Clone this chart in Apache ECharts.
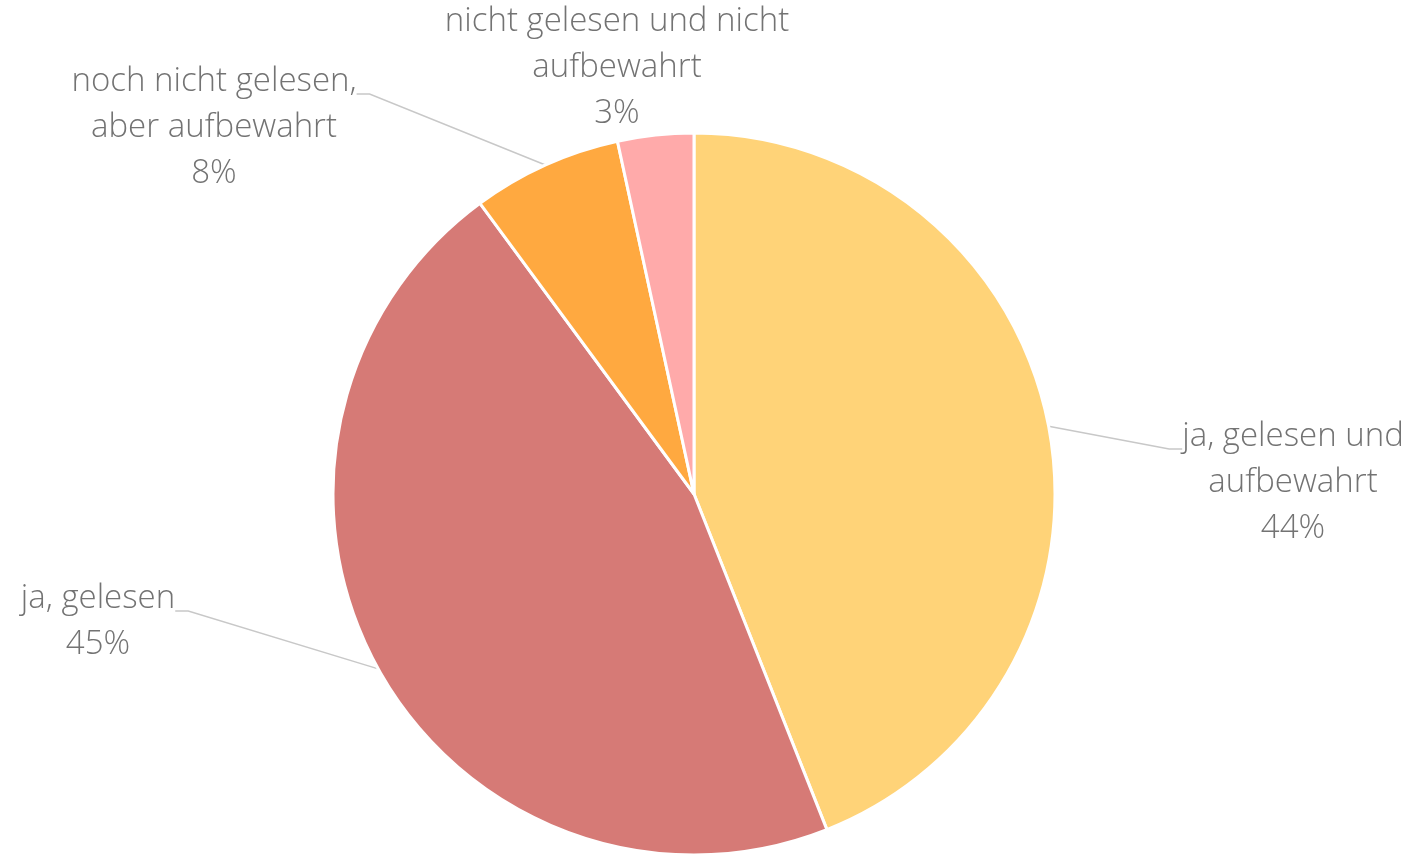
<!DOCTYPE html>
<html>
<head>
<meta charset="utf-8">
<script src="https://cdn.jsdelivr.net/npm/echarts@6/dist/echarts.min.js"></script>
<style>
  html, body { margin: 0; padding: 0; background: #fff; }
  #chart { width: 1411px; height: 855px; }
</style>
</head>
<body>
<div id="chart"></div>
<script>
// Kategorien (Zeilenumbrüche wie im Original)
const categories = [
  'ja, gelesen und\naufbewahrt',
  'ja, gelesen',
  'noch nicht gelesen,\naber aufbewahrt',
  'nicht gelesen und nicht\naufbewahrt'
]
// Anteile, wie die Segmente gezeichnet sind
const shares = [44.0, 45.9, 6.7, 3.4]
// Beschriftete Prozentwerte
const labelPercents = [44, 45, 8, 3]
const colors = ['#FFD378', '#D67A76', '#FFA940', '#FFAAAA']

// Lage der Beschriftungen (Mitte, Oberkante der ersten Zeile)
// pad: unsichtbarer Rand oben, damit die Führungslinie auf Höhe der ersten Zeile ansetzt
const labelSpots = [
  { x: 1293, y: 414, pad: 68 },
  { x: 98, y: 576, pad: 22 },
  { x: 214, y: 59, pad: 68 },
  { x: 617, y: -1, pad: 0 }
]

const chart = echarts.init(document.getElementById('chart'))

chart.setOption({
  animation: false,
  series: [{
    type: 'pie',
    center: [694, 494],
    radius: 361,
    startAngle: 90,
    clockwise: true,
    avoidLabelOverlap: false,
    itemStyle: { borderColor: '#fff', borderWidth: 3 },
    label: {
      show: true,
      position: 'outside',
      color: '#737373',
      fontFamily: 'Open Sans',
      fontWeight: 300,
      fontSize: 33,
      lineHeight: 46,
      align: 'center',
      backgroundColor: 'rgba(255,255,255,0)',
      formatter: (p) => p.name + '\n' + labelPercents[p.dataIndex] + '%'
    },
    labelLine: {
      show: true,
      length: 20,
      length2: 13,
      lineStyle: { color: '#C8C8C8', width: 1.5 }
    },
    labelLayout: (params) => {
      const s = labelSpots[params.dataIndex]
      return { x: s.x, y: s.y - s.pad, align: 'center', verticalAlign: 'top' }
    },
    data: categories.map((name, i) => ({
      name,
      value: shares[i],
      itemStyle: { color: colors[i] },
      label: { padding: [labelSpots[i].pad, 0, 0, 0] },
      labelLine: { show: i !== 3 }
    }))
  }]
})
</script>
</body>
</html>
